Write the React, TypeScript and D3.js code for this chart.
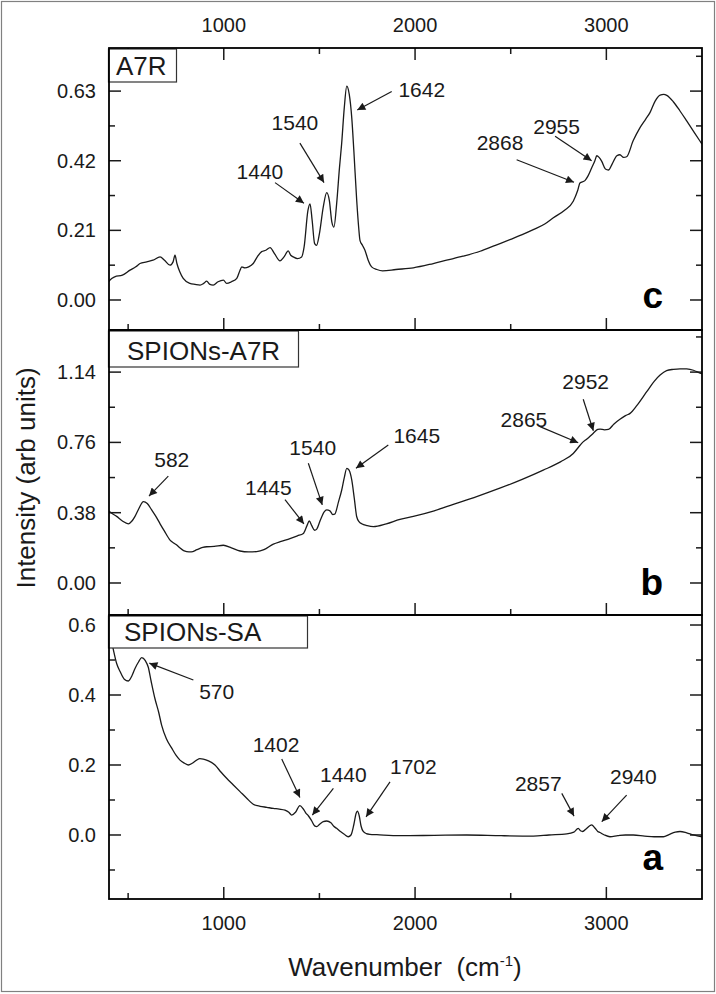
import React from 'react'
import * as d3 from 'd3'

// wavenumber axis
const wnDomain: [number, number] = [400, 3500]
const xMajor = [1000, 2000, 3000]
const xMinor = [500, 1500, 2500]

// spectra, [wavenumber, intensity]
const a7r: [number, number][] = [
  [400, 0.055], [405, 0.06], [430, 0.07], [470, 0.075], [510, 0.09], [540, 0.1], [562, 0.11],
  [597, 0.115], [630, 0.12], [667, 0.13], [690, 0.12], [719, 0.105], [735, 0.115], [745, 0.135],
  [755, 0.11], [770, 0.085], [788, 0.065], [823, 0.05], [850, 0.047], [876, 0.045], [895, 0.05],
  [911, 0.057], [925, 0.048], [945, 0.045], [970, 0.055], [998, 0.06], [1015, 0.05], [1040, 0.055],
  [1068, 0.065], [1085, 0.09], [1094, 0.1], [1110, 0.097], [1130, 0.1], [1154, 0.11], [1175, 0.13],
  [1198, 0.146], [1220, 0.15], [1242, 0.158], [1265, 0.14], [1294, 0.118], [1315, 0.13], [1337, 0.148],
  [1350, 0.135], [1364, 0.13], [1385, 0.125], [1407, 0.13], [1420, 0.16], [1440, 0.27], [1451, 0.29],
  [1462, 0.24], [1475, 0.17], [1485, 0.165], [1500, 0.2], [1520, 0.28], [1538, 0.324], [1552, 0.3],
  [1565, 0.235], [1576, 0.22], [1590, 0.29], [1605, 0.4], [1616, 0.47], [1630, 0.58], [1643, 0.645],
  [1656, 0.62], [1669, 0.55], [1680, 0.45], [1695, 0.3], [1705, 0.22], [1712, 0.18], [1725, 0.165],
  [1738, 0.15], [1755, 0.12], [1773, 0.1], [1800, 0.092], [1830, 0.088], [1900, 0.092], [1991, 0.097],
  [2095, 0.11], [2165, 0.12], [2250, 0.132], [2340, 0.147], [2420, 0.165], [2496, 0.182], [2560, 0.197],
  [2618, 0.212], [2680, 0.23], [2723, 0.248], [2780, 0.27], [2827, 0.298], [2850, 0.33], [2862, 0.353],
  [2888, 0.36], [2905, 0.375], [2923, 0.398], [2940, 0.42], [2950, 0.435], [2962, 0.43], [2976, 0.418],
  [2995, 0.395], [3011, 0.392], [3030, 0.41], [3055, 0.435], [3071, 0.438], [3090, 0.43], [3106, 0.432],
  [3140, 0.48], [3176, 0.52], [3205, 0.545], [3228, 0.565], [3255, 0.6], [3281, 0.618], [3300, 0.62],
  [3316, 0.617], [3350, 0.598], [3385, 0.57], [3420, 0.54], [3460, 0.505], [3500, 0.47],
]

const spionsA7r: [number, number][] = [
  [400, 0.39], [414, 0.377], [440, 0.36], [470, 0.335], [501, 0.32], [520, 0.335], [536, 0.36],
  [555, 0.4], [580, 0.44], [600, 0.43], [623, 0.395], [645, 0.36], [667, 0.32], [690, 0.28],
  [719, 0.232], [740, 0.215], [754, 0.205], [770, 0.19], [790, 0.175], [806, 0.17], [830, 0.168],
  [860, 0.18], [890, 0.192], [911, 0.196], [950, 0.198], [998, 0.204], [1040, 0.19], [1085, 0.173],
  [1130, 0.168], [1172, 0.17], [1210, 0.18], [1259, 0.21], [1300, 0.225], [1346, 0.24], [1385, 0.255],
  [1416, 0.268], [1435, 0.31], [1447, 0.335], [1460, 0.31], [1475, 0.285], [1485, 0.29], [1505, 0.34],
  [1525, 0.385], [1538, 0.395], [1555, 0.39], [1570, 0.37], [1580, 0.372], [1600, 0.44], [1616, 0.5],
  [1630, 0.57], [1643, 0.62], [1655, 0.61], [1669, 0.557], [1682, 0.46], [1695, 0.358], [1708, 0.33],
  [1721, 0.32], [1750, 0.31], [1782, 0.305], [1850, 0.32], [1921, 0.344], [1991, 0.36], [2100, 0.39],
  [2200, 0.425], [2322, 0.467], [2450, 0.515], [2560, 0.56], [2670, 0.61], [2760, 0.655], [2827, 0.7],
  [2855, 0.735], [2871, 0.755], [2900, 0.78], [2932, 0.81], [2955, 0.83], [2967, 0.832], [2990, 0.828],
  [3011, 0.83], [3040, 0.86], [3071, 0.885], [3100, 0.905], [3124, 0.917], [3160, 0.96], [3211, 1.034],
  [3250, 1.09], [3281, 1.124], [3315, 1.148], [3350, 1.155], [3385, 1.158], [3420, 1.157], [3455, 1.15],
  [3490, 1.134], [3500, 1.13],
]

const spionsSa: [number, number][] = [
  [400, 0.59], [423, 0.529], [440, 0.49], [458, 0.467], [480, 0.445], [501, 0.44], [520, 0.455],
  [536, 0.476], [555, 0.495], [571, 0.507], [590, 0.498], [605, 0.48], [620, 0.44], [640, 0.39],
  [660, 0.35], [675, 0.314], [700, 0.275], [728, 0.248], [750, 0.228], [771, 0.214], [795, 0.205],
  [815, 0.2], [835, 0.205], [858, 0.214], [875, 0.218], [893, 0.217], [920, 0.212], [954, 0.2],
  [985, 0.18], [1015, 0.162], [1050, 0.143], [1085, 0.124], [1120, 0.105], [1154, 0.088], [1190, 0.082],
  [1225, 0.079], [1259, 0.076], [1290, 0.074], [1320, 0.071], [1340, 0.065], [1355, 0.057], [1375, 0.065],
  [1398, 0.084], [1415, 0.075], [1430, 0.062], [1442, 0.055], [1460, 0.04], [1475, 0.026], [1486, 0.024],
  [1500, 0.03], [1520, 0.038], [1538, 0.04], [1560, 0.035], [1575, 0.025], [1590, 0.019], [1610, 0.01],
  [1630, 0.002], [1651, -0.005], [1665, 0.0], [1680, 0.03], [1692, 0.062], [1698, 0.068], [1708, 0.055],
  [1718, 0.025], [1729, 0.01], [1745, 0.004], [1764, 0.002], [1800, 0.001], [1921, -0.002], [2100, -0.001],
  [2270, 0.0], [2450, -0.002], [2618, -0.003], [2700, 0.0], [2793, 0.003], [2830, 0.008], [2853, 0.019],
  [2865, 0.012], [2876, 0.01], [2895, 0.018], [2915, 0.027], [2923, 0.029], [2940, 0.02], [2955, 0.01],
  [2967, 0.007], [2990, 0.0], [3019, -0.005], [3060, -0.002], [3100, 0.0], [3141, 0.0], [3200, -0.003],
  [3250, -0.005], [3298, -0.005], [3330, 0.002], [3360, 0.008], [3385, 0.01], [3420, 0.006], [3455, 0.0],
  [3480, -0.003], [3500, -0.005],
]

// y ticks per panel
const cMajor = [0, 0.21, 0.42, 0.63]
const cMinor = [0.105, 0.315, 0.525, 0.735]
const bMajor = [0, 0.38, 0.76, 1.14]
const bMinor = [0.19, 0.57, 0.95, 1.33]
const aMajor = [0, 0.2, 0.4, 0.6]
const aMinor = [-0.1, 0.1, 0.3, 0.5]

// peak labels: text centre (wn, I), arrow tail and tip (wn, I)
type Note = { label: string; t: [number, number]; from: [number, number]; to: [number, number] }
const cNotes: Note[] = [
  { label: '1440', t: [1189, 0.387], from: [1268, 0.354], to: [1419, 0.292] },
  { label: '1540', t: [1372, 0.535], from: [1398, 0.473], to: [1524, 0.354] },
  { label: '1642', t: [2035, 0.634], from: [1878, 0.629], to: [1698, 0.573] },
  { label: '2868', t: [2444, 0.474], from: [2531, 0.423], to: [2831, 0.355] },
  { label: '2955', t: [2740, 0.522], from: [2732, 0.494], to: [2923, 0.42] },
]
const bNotes: Note[] = [
  { label: '582', t: [728, 0.665], from: [710, 0.578], to: [609, 0.47] },
  { label: '1445', t: [1233, 0.517], from: [1320, 0.451], to: [1419, 0.319] },
  { label: '1540', t: [1465, 0.734], from: [1442, 0.647], to: [1515, 0.422] },
  { label: '1645', t: [2009, 0.8], from: [1860, 0.746], to: [1691, 0.62] },
  { label: '2865', t: [2569, 0.885], from: [2653, 0.845], to: [2853, 0.758] },
  { label: '2952', t: [2892, 1.089], from: [2879, 0.993], to: [2932, 0.823] },
]
const aNotes: Note[] = [
  { label: '570', t: [963, 0.409], from: [841, 0.443], to: [611, 0.491] },
  { label: '1402', t: [1273, 0.259], from: [1303, 0.217], to: [1398, 0.107] },
  { label: '1440', t: [1625, 0.173], from: [1573, 0.133], to: [1463, 0.057] },
  { label: '1702', t: [1991, 0.197], from: [1869, 0.152], to: [1744, 0.052] },
  { label: '2857', t: [2644, 0.148], from: [2767, 0.119], to: [2831, 0.054] },
  { label: '2940', t: [3141, 0.167], from: [3106, 0.114], to: [2976, 0.038] },
]

const FONT = '"Liberation Sans", Arial, sans-serif'
const INK = '#1a1a1a'
const LEFT = 109
const RIGHT = 702

const panels = [
  {
    id: 'c', name: 'A7R', top: 48, bottom: 330, yDomain: [-0.0905, 0.76], major: cMajor, minor: cMinor,
    fmt: d3.format('.2f'), data: a7r, notes: cNotes, boxW: 68, boxH: 34, nameX: 116, letterY: 308,
  },
  {
    id: 'b', name: 'SPIONs-A7R', top: 330, bottom: 615, yDomain: [-0.173, 1.3676], major: bMajor, minor: bMinor,
    fmt: d3.format('.2f'), data: spionsA7r, notes: bNotes, boxW: 190, boxH: 37, nameX: 127, letterY: 595,
  },
  {
    id: 'a', name: 'SPIONs-SA', top: 615, bottom: 899, yDomain: [-0.1829, 0.6286], major: aMajor, minor: aMinor,
    fmt: d3.format('.1f'), data: spionsSa, notes: aNotes, boxW: 199, boxH: 33, nameX: 124, letterY: 870,
  },
]

export default function App() {
  const x = d3.scaleLinear().domain(wnDomain).range([LEFT, RIGHT])
  const MAJ = 12
  const MIN = 6

  return (
    <svg width={716} height={994} style={{ position: 'absolute', left: 0, top: 0, background: '#fff' }}
      fontFamily={FONT}>
      <defs>
        <marker id="head" viewBox="0 0 10 10" refX="10" refY="5" markerWidth="13" markerHeight="8"
          markerUnits="userSpaceOnUse" orient="auto">
          <path d="M0,0 L10,5 L0,10 z" fill={INK} />
        </marker>
      </defs>
      <rect x={1.5} y={1.5} width={713} height={990} fill="#fff" stroke="#808080" strokeWidth={1.2} />

      {panels.map((p, pi) => {
        const y = d3.scaleLinear().domain(p.yDomain).range([p.bottom, p.top])
        const line = d3.line<[number, number]>()
          .x((d) => x(d[0])).y((d) => y(d[1]))
          .curve(d3.curveMonotoneX)
        return (
          <g key={p.id}>
            <clipPath id={`clip-${p.id}`}>
              <rect x={LEFT} y={p.top} width={RIGHT - LEFT} height={p.bottom - p.top} />
            </clipPath>
            <path d={line(p.data) ?? ''} fill="none" stroke={INK} strokeWidth={1.3}
              strokeLinejoin="round" clipPath={`url(#clip-${p.id})`} />

            {/* y ticks, both sides, inward */}
            {p.major.map((v) => (
              <g key={`M${v}`}>
                <line x1={LEFT} x2={LEFT + MAJ} y1={y(v)} y2={y(v)} stroke={INK} strokeWidth={1.5} />
                <line x1={RIGHT} x2={RIGHT - MAJ} y1={y(v)} y2={y(v)} stroke={INK} strokeWidth={1.5} />
                <text x={96} y={y(v)} textAnchor="end" dominantBaseline="central" fontSize={20} fill={INK}>
                  {p.fmt(v)}
                </text>
              </g>
            ))}
            {p.minor.map((v) => (
              <g key={`m${v}`}>
                <line x1={LEFT} x2={LEFT + MIN} y1={y(v)} y2={y(v)} stroke={INK} strokeWidth={1.5} />
                <line x1={RIGHT} x2={RIGHT - MIN} y1={y(v)} y2={y(v)} stroke={INK} strokeWidth={1.5} />
              </g>
            ))}

            {/* x ticks on bottom edge of each panel, pointing up */}
            {xMajor.map((w) => (
              <line key={`xb${w}`} x1={x(w)} x2={x(w)} y1={p.bottom} y2={p.bottom - MAJ} stroke={INK} strokeWidth={1.5} />
            ))}
            {xMinor.map((w) => (
              <line key={`xbm${w}`} x1={x(w)} x2={x(w)} y1={p.bottom} y2={p.bottom - MIN} stroke={INK} strokeWidth={1.5} />
            ))}
            {pi === 0 && xMajor.map((w) => (
              <line key={`xt${w}`} x1={x(w)} x2={x(w)} y1={p.top} y2={p.top + MAJ} stroke={INK} strokeWidth={1.5} />
            ))}
            {pi === 0 && xMinor.map((w) => (
              <line key={`xtm${w}`} x1={x(w)} x2={x(w)} y1={p.top} y2={p.top + MIN} stroke={INK} strokeWidth={1.5} />
            ))}

            {/* peak annotations */}
            {p.notes.map((n, i) => (
              <g key={`n${i}`}>
                <line x1={x(n.from[0])} y1={y(n.from[1])} x2={x(n.to[0])} y2={y(n.to[1])}
                  stroke={INK} strokeWidth={1.2} markerEnd="url(#head)" />
                <text x={x(n.t[0])} y={y(n.t[1])} textAnchor="middle" dominantBaseline="central"
                  fontSize={21} fill={INK}>{n.label}</text>
              </g>
            ))}

            {/* sample name box */}
            <rect x={LEFT - 0.5} y={p.top + 1} width={p.boxW} height={p.boxH - 1} fill="#fff" stroke="#333" strokeWidth={1.2} />
            <text x={p.nameX} y={p.top + p.boxH - 7} fontSize={26} fill={INK}>{p.name}</text>

            {/* panel letter */}
            <text x={663} y={p.letterY} textAnchor="end" fontSize={37} fontWeight="bold" fill="#000">{p.id}</text>

            <rect x={LEFT} y={p.top} width={RIGHT - LEFT} height={p.bottom - p.top} fill="none" stroke="#000" strokeWidth={1.8} />
          </g>
        )
      })}

      {/* x tick labels top and bottom */}
      {xMajor.map((w) => (
        <g key={`xl${w}`}>
          <text x={x(w)} y={32} textAnchor="middle" fontSize={20} fill={INK}>{w}</text>
          <text x={x(w)} y={930} textAnchor="middle" fontSize={20} fill={INK}>{w}</text>
        </g>
      ))}

      <text x={405} y={976} textAnchor="middle" fontSize={26} fill={INK} style={{ whiteSpace: 'pre' }}>
        {'Wavenumber  (cm'}<tspan fontSize={15} dy={-10}>-1</tspan><tspan dy={10}>)</tspan>
      </text>
      <text transform="translate(26,478) rotate(-90)" textAnchor="middle" dominantBaseline="central"
        fontSize={26} fill={INK}>Intensity (arb units)</text>
    </svg>
  )
}
